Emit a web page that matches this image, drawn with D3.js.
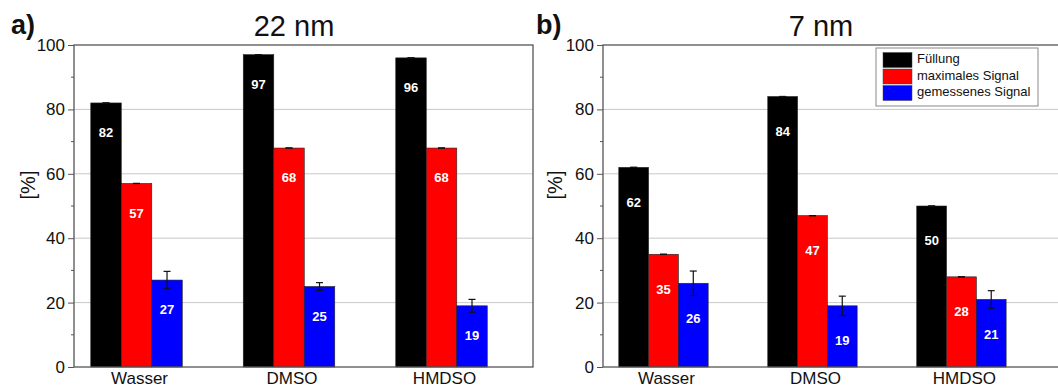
<!DOCTYPE html>
<html>
<head>
<meta charset="utf-8">
<script src="https://cdn.jsdelivr.net/npm/d3@7/dist/d3.min.js"></script>
<style>
  body { margin: 0; background: #fff; }
  svg { display: block; font-family: "Liberation Sans", Arial, sans-serif; }
</style>
</head>
<body>
<svg id="chart" width="1058" height="389"></svg>
<script>
// categories + series
var categories = ["Wasser", "DMSO", "HMDSO"];
var seriesNames = ["Füllung", "maximales Signal", "gemessenes Signal"];
var seriesColors = ["#000000", "#ff0000", "#0000ff"];

// 22 nm
var fill22 = [82, 97, 96];
var max22 = [57, 68, 68];
var meas22 = [27, 25, 19];
var measErr22 = [2.7, 1.2, 2.0];

// 7 nm
var fill7 = [62, 84, 50];
var max7 = [35, 47, 28];
var meas7 = [26, 19, 21];
var measErr7 = [3.8, 3.0, 2.7];

var yTicks = [0, 20, 40, 60, 80, 100];
var yMinor = [10, 30, 50, 70, 90];

var svg = d3.select("#chart");

var panels = [
  { tag: "a)", title: "22 nm", series: [fill22, max22, meas22], errs: [null, null, measErr22],
    left: 74, right: 533, dom: [0.59, 3.6], titleX: 294, tagX: 11, ylabX: 30, labOff: 31, legend: false },
  { tag: "b)", title: "7 nm", series: [fill7, max7, meas7], errs: [null, null, measErr7],
    left: 603, right: 1062, dom: [0.594, 3.675], titleX: 821, tagX: 536, ylabX: 557, labOff: 36, legend: true }
];

// note: "top" clashes with window.top, so plotTop/plotBottom
var plotTop = 45, plotBottom = 367;
var y = d3.scaleLinear().domain([0, 100]).range([plotBottom, plotTop]);

panels.forEach(function(p) {
  var g = svg.append("g");
  var x = d3.scaleLinear().domain(p.dom).range([p.left, p.right]);
  var bw = x(1.2) - x(1);

  // gridlines
  g.selectAll(".grid").data([20, 40, 60, 80]).enter().append("line")
    .attr("x1", p.left).attr("x2", p.right)
    .attr("y1", function(d) { return y(d); }).attr("y2", function(d) { return y(d); })
    .attr("stroke", "#c8c8c8").attr("stroke-width", 1);

  // bars
  p.series.forEach(function(vals, si) {
    vals.forEach(function(v, ci) {
      var cx = x(ci + 1) + (si - 1) * bw;
      g.append("rect")
        .attr("x", cx - bw / 2).attr("y", y(v))
        .attr("width", bw).attr("height", y(0) - y(v))
        .attr("fill", seriesColors[si])
        .attr("stroke", "#222").attr("stroke-width", 0.6);
      // error bar
      var e = p.errs[si] ? p.errs[si][ci] : 0;
      g.append("line").attr("x1", cx).attr("x2", cx)
        .attr("y1", y(v + e)).attr("y2", y(v - e))
        .attr("stroke", "#111").attr("stroke-width", 1.2);
      [v + e, v - e].forEach(function(ev) {
        g.append("line").attr("x1", cx - 3.5).attr("x2", cx + 3.5)
          .attr("y1", y(ev)).attr("y2", y(ev))
          .attr("stroke", "#111").attr("stroke-width", 1.2);
      });
      // value label
      g.append("text")
        .attr("x", cx).attr("y", y(v) + p.labOff)
        .attr("text-anchor", "middle").attr("dominant-baseline", "middle")
        .attr("fill", "#fff").attr("font-weight", "bold").attr("font-size", 13)
        .text(v);
    });
  });

  // frame
  g.append("rect").attr("x", p.left).attr("y", plotTop)
    .attr("width", p.right - p.left).attr("height", plotBottom - plotTop)
    .attr("fill", "none").attr("stroke", "#555").attr("stroke-width", 1.3);

  // y axis
  var yAxis = d3.axisLeft(y).tickValues(yTicks).tickSize(6).tickPadding(3);
  var ya = g.append("g").attr("transform", "translate(" + p.left + ",0)").call(yAxis);
  ya.select(".domain").remove();
  ya.selectAll("line").attr("stroke", "#555");
  ya.selectAll("text").attr("font-size", 17).attr("fill", "#111")
    .attr("font-family", "Liberation Sans, Arial, sans-serif");
  g.selectAll(".minor").data(yMinor).enter().append("line")
    .attr("x1", p.left - 3).attr("x2", p.left)
    .attr("y1", function(d) { return y(d); }).attr("y2", function(d) { return y(d); })
    .attr("stroke", "#555");

  // x axis labels
  g.selectAll(".cat").data(categories).enter().append("text")
    .attr("x", function(d, i) { return x(i + 1) + 3; })
    .attr("y", plotBottom + 17)
    .attr("text-anchor", "middle").attr("font-size", 17).attr("fill", "#111")
    .text(function(d) { return d; });

  // y label
  g.append("text")
    .attr("transform", "translate(" + p.ylabX + "," + 185 + ") rotate(-90)")
    .attr("text-anchor", "middle").attr("dominant-baseline", "middle")
    .attr("font-size", 20).attr("fill", "#111").text("[%]");

  // title and tag
  g.append("text").attr("x", p.titleX).attr("y", 36)
    .attr("text-anchor", "middle").attr("font-size", 29).attr("fill", "#111")
    .text(p.title);
  g.append("text").attr("x", p.tagX).attr("y", 34)
    .attr("font-size", 27).attr("font-weight", "bold").attr("fill", "#111")
    .text(p.tag);

  if (p.legend) {
    var lg = g.append("g").attr("transform", "translate(876,48)");
    lg.append("rect").attr("width", 162).attr("height", 58)
      .attr("fill", "#fff").attr("stroke", "#888").attr("stroke-width", 1);
    seriesNames.forEach(function(n, i) {
      lg.append("rect").attr("x", 7).attr("y", 4.5 + i * 16.5)
        .attr("width", 29).attr("height", 15)
        .attr("fill", seriesColors[i]).attr("stroke", "#444").attr("stroke-width", 0.5);
      lg.append("text").attr("x", 41).attr("y", 12 + i * 16.5)
        .attr("dominant-baseline", "middle").attr("font-size", 13).attr("fill", "#111")
        .text(n);
    });
  }
});
</script>
</body>
</html>
